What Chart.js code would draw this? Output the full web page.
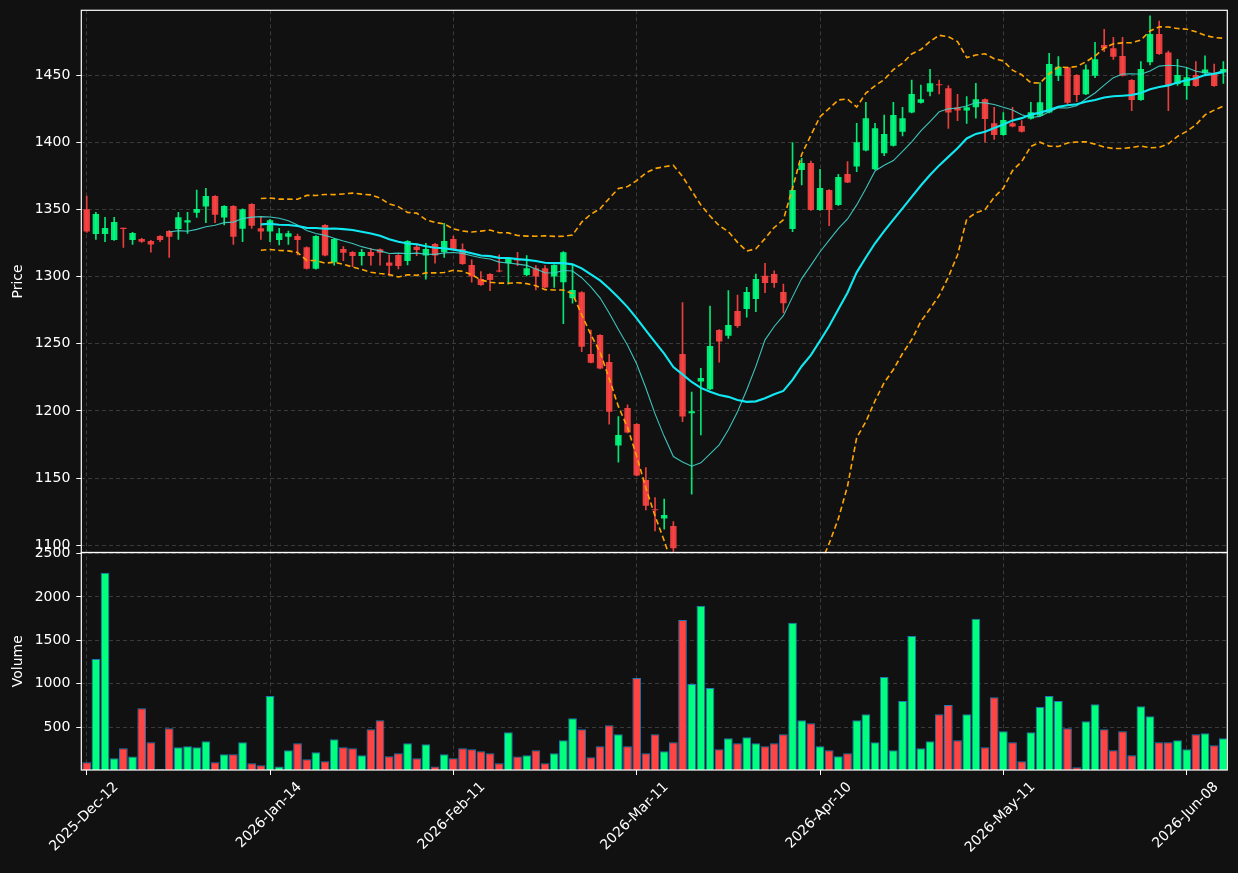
<!DOCTYPE html>
<html><head><meta charset="utf-8">
<script src="https://cdn.jsdelivr.net/npm/chart.js@4.4.1/dist/chart.umd.min.js"></script>
<style>html,body{margin:0;padding:0;background:#111111;overflow:hidden}#wrap{width:1238px;height:873px}</style>
</head><body><div id="wrap"><canvas id="c" width="1238" height="873"></canvas></div>
<script>
// ---- data ----
const tickIndex  = [0, 20, 40, 60, 80, 100, 120];
const tickLabels = ['2025-Dec-12','2026-Jan-14','2026-Feb-11','2026-Mar-11','2026-Apr-10','2026-May-11','2026-Jun-08'];
const priceTicks  = [1100, 1150, 1200, 1250, 1300, 1350, 1400, 1450];
const volumeTicks = [500, 1000, 1500, 2000, 2500];

const opens = [1350.2,1331.8,1331.8,1327.4,1336.1,1327.4,1328.1,1326.6,1330.3,1334.0,
1335.5,1340.3,1347.7,1352.2,1360.1,1344.0,1352.7,1335.8,1354.2,1336.0,
1333.6,1327.4,1329.8,1330.3,1321.9,1306.0,1338.5,1310.7,1320.7,1318.4,
1315.4,1318.4,1320.4,1310.5,1316.2,1311.7,1322.4,1315.7,1324.4,1318.4,
1328.1,1320.7,1308.7,1298.3,1302.0,1304.5,1310.0,1313.0,1301.3,1306.3,
1306.3,1300.1,1295.9,1283.9,1288.4,1242.5,1256.6,1236.5,1174.2,1202.3,
1190.3,1148.6,1126.8,1119.9,1114.4,1242.5,1198.3,1221.9,1216.2,1260.3,
1256.1,1274.5,1276.0,1283.4,1300.8,1302.0,1288.6,1335.6,1379.5,1384.7,
1349.7,1364.6,1353.4,1376.5,1382.0,1393.9,1380.0,1391.9,1397.6,1408.0,
1422.2,1429.6,1437.8,1443.0,1440.3,1426.2,1423.7,1426.2,1432.1,1414.2,
1405.6,1414.2,1412.3,1417.7,1419.9,1422.2,1449.7,1455.9,1450.2,1435.8,
1449.7,1472.6,1470.1,1464.4,1446.5,1431.6,1459.7,1480.8,1466.9,1443.5,
1442.0,1450.2,1451.5,1451.5,1452.0];
const highs = [1360.1,1348.0,1344.2,1344.2,1336.3,1333.0,1328.5,1327.0,1330.6,1334.3,
1348.0,1348.0,1364.6,1365.8,1360.4,1352.9,1353.0,1350.5,1354.5,1344.2,
1342.8,1336.0,1334.0,1331.8,1322.2,1330.6,1338.8,1328.4,1322.4,1318.7,
1320.4,1321.1,1320.7,1316.2,1316.5,1326.9,1324.4,1324.9,1324.9,1339.8,
1330.3,1324.4,1312.5,1303.8,1302.3,1316.2,1314.5,1318.2,1315.7,1308.2,
1308.2,1308.9,1318.7,1308.7,1289.0,1260.3,1256.9,1242.2,1195.8,1204.5,
1190.6,1157.8,1135.5,1134.3,1117.6,1280.7,1214.0,1231.8,1278.2,1260.6,
1289.6,1286.4,1292.1,1302.0,1310.0,1304.3,1294.6,1399.8,1388.2,1386.2,
1380.0,1364.9,1376.3,1385.7,1414.2,1429.9,1414.2,1420.4,1429.9,1426.2,
1446.5,1442.8,1454.4,1446.5,1442.3,1435.8,1434.1,1444.0,1432.4,1426.2,
1422.3,1426.2,1416.2,1429.9,1444.5,1466.4,1463.9,1456.2,1450.5,1457.7,
1474.6,1484.2,1478.3,1478.3,1446.8,1460.2,1494.2,1490.4,1468.0,1461.9,
1455.2,1460.2,1464.4,1458.4,1460.2];
const lows = [1333.0,1327.8,1326.1,1327.0,1321.9,1324.1,1325.5,1318.2,1326.1,1314.4,
1327.8,1332.3,1344.2,1340.3,1340.3,1338.5,1324.1,1326.1,1336.0,1327.8,
1326.1,1323.6,1324.1,1316.2,1305.7,1305.7,1315.4,1308.5,1312.0,1307.5,
1308.5,1308.5,1308.5,1300.5,1305.8,1308.7,1315.7,1298.1,1310.0,1314.3,
1320.4,1309.2,1295.9,1293.6,1289.6,1303.5,1294.4,1308.2,1300.5,1290.1,
1291.6,1292.1,1265.0,1280.2,1244.2,1235.7,1231.3,1190.1,1161.8,1183.6,
1151.6,1126.3,1110.7,1111.9,1095.5,1192.1,1138.0,1182.2,1215.9,1236.3,
1254.1,1262.3,1269.8,1274.0,1288.1,1292.1,1273.3,1333.6,1368.3,1349.4,
1349.4,1338.0,1353.1,1370.0,1378.3,1393.6,1379.7,1390.2,1397.3,1404.8,
1421.9,1429.3,1434.6,1436.1,1410.5,1416.2,1414.2,1418.0,1400.1,1402.3,
1405.3,1411.5,1407.7,1417.4,1419.6,1421.9,1446.0,1428.6,1430.4,1435.5,
1448.2,1467.6,1461.9,1449.4,1423.7,1431.3,1457.7,1465.6,1423.7,1442.5,
1432.1,1441.7,1449.7,1441.7,1444.0];
const closes = [1333.6,1346.7,1336.3,1340.8,1335.5,1332.6,1326.1,1323.9,1327.4,1329.8,
1344.2,1342.0,1350.4,1360.1,1346.2,1352.7,1329.8,1350.2,1338.0,1333.6,
1342.0,1332.3,1332.3,1327.4,1306.0,1330.3,1315.7,1328.1,1317.9,1315.4,
1318.4,1315.4,1317.9,1308.2,1308.0,1326.6,1319.9,1320.7,1315.7,1326.6,
1320.7,1309.5,1300.1,1293.9,1297.6,1303.8,1313.7,1312.0,1306.3,1300.1,
1291.9,1308.7,1318.2,1290.1,1247.9,1236.0,1231.6,1199.5,1182.2,1183.9,
1151.9,1129.5,1126.0,1122.6,1097.8,1195.8,1199.8,1224.6,1248.4,1251.7,
1264.1,1263.3,1288.6,1298.3,1295.3,1295.3,1280.2,1364.6,1384.7,1349.7,
1366.1,1349.7,1374.3,1370.1,1400.1,1418.0,1410.5,1406.3,1420.4,1418.0,
1436.1,1432.1,1444.0,1442.5,1422.2,1423.7,1426.2,1432.1,1417.5,1405.6,
1416.7,1411.8,1408.0,1422.4,1429.9,1458.4,1456.4,1429.6,1435.3,1454.4,
1461.9,1470.1,1463.9,1449.7,1431.6,1454.7,1480.8,1465.9,1442.3,1450.2,
1448.5,1442.0,1454.4,1442.0,1454.7];
const volumes = [95,1285,2278,142,257,161,719,326,18,488,
269,280,269,338,96,188,188,326,84,61,
858,46,234,315,130,211,107,361,269,257,
176,477,580,165,199,315,142,303,46,188,
142,257,246,223,199,84,442,161,176,234,
84,199,350,604,477,153,280,523,419,280,
1065,199,419,223,326,1735,996,1897,950,246,
373,315,384,315,280,315,419,1701,580,546,
280,234,165,199,580,650,326,1077,234,800,
1550,257,338,650,754,350,650,1747,269,846,
454,326,107,442,731,858,800,488,38,569,
765,477,234,454,176,742,627,326,326,350,
246,419,430,292,373];

// ---- derived indicators (computed from the closes, as the original chart does) ----
function sma(arr, n){ return arr.map((_, i) => i < n-1 ? null : arr.slice(i-n+1, i+1).reduce((a,b)=>a+b,0)/n); }
function sdev(arr, n){ return arr.map((_, i) => { if (i < n-1) return null; const w = arr.slice(i-n+1, i+1); const m = w.reduce((a,b)=>a+b,0)/n; return Math.sqrt(w.reduce((a,b)=>a+(b-m)*(b-m),0)/n); }); }
const ma10 = sma(closes, 10);
const ma20 = sma(closes, 20);
const sd20 = sdev(closes, 20);
const bbUp = ma20.map((m,i) => m === null ? null : m + 2*sd20[i]);
const bbLo = ma20.map((m,i) => m === null ? null : m - 2*sd20[i]);

const UP = 'rgba(0,255,127,0.9)', DOWN = 'rgba(255,68,68,0.9)';
const VUP = '#00ff7f', VDOWN = '#ff4444';
const isUp = closes.map((c,i) => c >= opens[i]);
const candleColors = isUp.map(u => u ? UP : DOWN);
const volColors = isUp.map(u => u ? VUP : VDOWN);
const pts = arr => arr.map((v,i) => ({x:i, y:v}));

const FONT = {family: 'DejaVu Sans', size: 14};
const GRID = '#3a3a3a';

const framePlugin = {
  id: 'frame',
  beforeDatasetDraw(chart, args){
    const ys = chart.scales[args.meta.yAxisID]; const a = chart.chartArea; const c = chart.ctx;
    c.save(); c.beginPath(); c.rect(a.left, ys.top, a.right - a.left, ys.bottom - ys.top); c.clip();
  },
  afterDatasetDraw(chart){ chart.ctx.restore(); },
  afterDraw(chart){
    const c = chart.ctx, a = chart.chartArea;
    c.save(); c.strokeStyle = '#ffffff'; c.lineWidth = 1.2;
    ['y','yv'].forEach(id => { const s = chart.scales[id]; c.strokeRect(a.left, s.top, a.right - a.left, s.bottom - s.top); });
    c.restore();
  }
};

const yCommon = {
  type: 'linear',
  position: 'left',
  border: {display: false, dash: [4, 3]},
  grid: {color: GRID, lineWidth: 1, tickColor: '#ffffff', tickLength: 5, tickBorderDash: []},
  ticks: {color: '#ffffff', font: FONT, padding: 6, callback: v => String(v)},
  afterFit: s => { s.width = 81.3; s.paddingTop = 0; s.paddingBottom = 0; }
};

new Chart(document.getElementById('c'), {
  type: 'bar',
  data: { datasets: [
    {type:'line', label:'BB upper', data: pts(bbUp), yAxisID:'y', borderColor:'#ffa500', borderWidth:1.6, borderDash:[5.5,3.3], pointRadius:0, spanGaps:false, order:1},
    {type:'line', label:'BB lower', data: pts(bbLo), yAxisID:'y', borderColor:'#ffa500', borderWidth:1.6, borderDash:[5.5,3.3], pointRadius:0, spanGaps:false, order:1},
    {type:'line', label:'MA20', data: pts(ma20), yAxisID:'y', borderColor:'#10e8f2', borderWidth:2.1, pointRadius:0, spanGaps:false, order:2},
    {type:'line', label:'MA10', data: pts(ma10), yAxisID:'y', borderColor:'rgba(64,214,204,0.9)', borderWidth:1.1, pointRadius:0, spanGaps:false, order:3},
    {label:'body', data: opens.map((o,i)=>({x:i, y:[o, closes[i]]})), yAxisID:'y', backgroundColor: candleColors, borderWidth:0, grouped:false, barPercentage:0.7, categoryPercentage:1, minBarLength:1.2, order:4},
    {label:'wick', data: lows.map((l,i)=>({x:i, y:[l, highs[i]]})), yAxisID:'y', backgroundColor: candleColors, borderWidth:0, grouped:false, barThickness:1, minBarLength:1, order:5},
    {label:'volume', data: volumes.map((v,i)=>({x:i, y:v})), yAxisID:'yv', backgroundColor: volColors, borderColor:'#1f77b4', borderWidth:1, grouped:false, barPercentage:0.95, categoryPercentage:1, order:6}
  ]},
  options: {
    responsive: false, animation: false, devicePixelRatio: 1,
    layout: {padding: {left: 0, right: 10.7, top: 10.3, bottom: 0}},
    plugins: {legend: {display: false}, tooltip: {enabled: false}},
    scales: {
      x: {
        type: 'linear', min: -0.59, max: 124.43, offset: false, bounds: 'data',
        border: {display: false, dash: [4, 3]},
        grid: {color: GRID, lineWidth: 1, offset: false, tickColor: '#ffffff', tickLength: 5, tickBorderDash: []},
        afterBuildTicks: s => { s.ticks = tickIndex.map(v => ({value: v})); },
        ticks: {color: '#ffffff', font: FONT, autoSkip: false, maxRotation: 45, minRotation: 45, labelOffset: 29.5, padding: 4,
                callback: v => { const k = tickIndex.indexOf(v); return k >= 0 ? tickLabels[k] : ''; }},
        afterFit: s => { s.height = 103; s.paddingLeft = 0; s.paddingRight = 0; }
      },
      yv: Object.assign({}, yCommon, {
        stack: 'panels', stackWeight: 1, min: 7, max: 2511, bounds: 'data',
        afterBuildTicks: s => { s.ticks = volumeTicks.map(v => ({value: v})); },
        title: {display: true, text: 'Volume', color: '#ffffff', font: FONT, padding: {top: 9.6, bottom: 0}}
      }),
      y: Object.assign({}, yCommon, {
        stack: 'panels', stackWeight: 2.493, min: 1094.6, max: 1498.4, bounds: 'data',
        afterBuildTicks: s => { s.ticks = priceTicks.map(v => ({value: v})); },
        title: {display: true, text: 'Price', color: '#ffffff', font: FONT, padding: {top: 9.6, bottom: 0}}
      })
    }
  },
  plugins: [framePlugin]
});
</script>
</body></html>
